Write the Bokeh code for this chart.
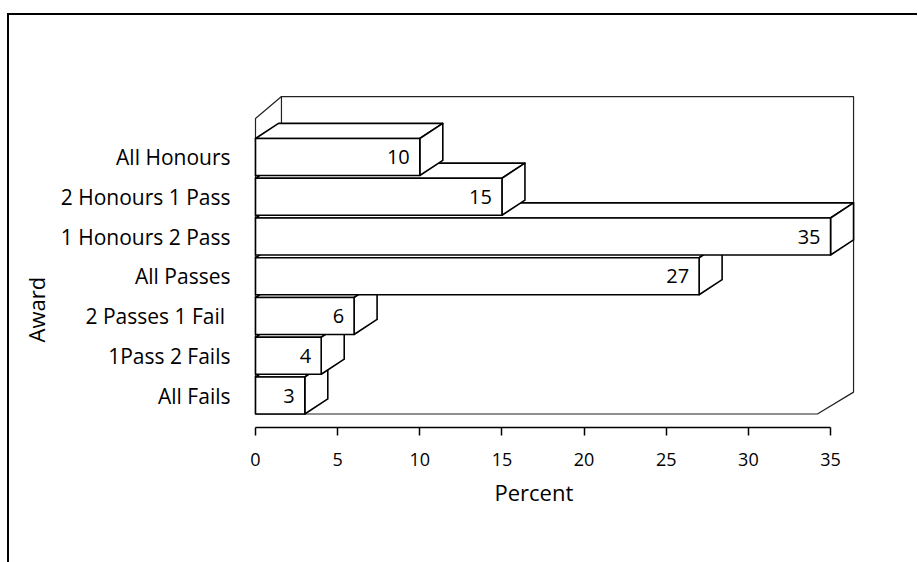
from bokeh.plotting import figure
from bokeh.models import Range1d, FixedTicker, Title
from bokeh.core.properties import value
from bokeh.embed import file_html
from bokeh.resources import INLINE

# ---- data ----
categories = ["All Honours", "2 Honours 1 Pass", "1 Honours 2 Pass", "All Passes",
              "2 Passes  1 Fail", "1Pass 2 Fails", "All Fails"]
percent = [10, 15, 35, 27, 6, 4, 3]
x_ticks = [0, 5, 10, 15, 20, 25, 30, 35]
x_title = "Percent"
y_title = "Award"

# ---- layout / style constants ----
FONT = "Open Sans"
AXIS_MAX = 35
BAR_H = 0.93            # bar thickness (category units)
DX, DY = 1.40, 0.38     # bar depth (value units, category units)
WDX, WDY = 1.58, 0.55   # wall depth
PX_X = 16.43            # pixels per percent unit
PX_Y = 39.75            # pixels per category
FRAME_W, FRAME_H = 630, 367
X0 = -5 / PX_X
Y0 = -0.805

n = len(categories)
idx = list(range(n - 1, -1, -1))   # first category at the top

p = figure(frame_width=FRAME_W, frame_height=FRAME_H,
           x_range=Range1d(X0, X0 + FRAME_W / PX_X),
           y_range=Range1d(Y0, Y0 + FRAME_H / PX_Y),
           output_backend="svg", toolbar_location=None,
           min_border_left=241, min_border_right=37,
           min_border_top=45, min_border_bottom=135)
p.outline_line_color = None
p.grid.visible = False
p.background_fill_color = "white"
p.border_fill_color = "white"
p.styles = {"border-left": "2px solid black", "border-top": "2px solid black",
            "margin-top": "13px", "margin-left": "7px"}

# ---- walls / floor ----
yF = min(idx) - BAR_H / 2
yWT = max(idx) + 0.97
XR = AXIS_MAX + 1.4
XFR = AXIS_MAX - 0.8
wall_xs = [[0, 0, WDX, XR, XR, XFR, 0], [WDX, WDX]]
wall_ys = [[yF, yWT, yWT + WDY, yWT + WDY, yF + WDY, yF, yF], [yWT + WDY, yF + WDY]]
p.multi_line(wall_xs, wall_ys, line_color="#222222", line_width=1.2)

# ---- 3D bars (drawn bottom to top) ----
xs, ys = [], []
order = sorted(zip(categories, percent, idx), key=lambda t: t[2])
for cat, v, i in order:
    yb, yt = i - BAR_H / 2, i + BAR_H / 2
    xs.append([0, v, v + DX, DX]); ys.append([yt, yt, yt + DY, yt + DY])
    xs.append([v, v + DX, v + DX, v]); ys.append([yb, yb + DY, yt + DY, yt])
    xs.append([0, v, v, 0]); ys.append([yb, yb, yt, yt])
p.patches(xs, ys, fill_color="white", line_color="black", line_width=1.6,
          line_join="round")

p.text(x=percent, y=idx, text=[str(v) for v in percent], text_align="right",
       text_baseline="middle", x_offset=-10, text_font=value(FONT),
       text_font_size="20px", text_color="black")

# ---- axes ----
p.yaxis.ticker = FixedTicker(ticks=idx)
p.yaxis.major_label_overrides = {i: c for i, c in zip(idx, categories)}
p.yaxis.axis_line_color = None
p.yaxis.major_tick_line_color = None
p.yaxis.major_tick_out = 0
p.yaxis.major_tick_in = 0
p.yaxis.minor_tick_line_color = None
p.yaxis.major_label_standoff = 20
p.yaxis.major_label_text_font = FONT
p.yaxis.major_label_text_font_size = "21px"
p.yaxis.major_label_text_color = "black"

p.xaxis.ticker = FixedTicker(ticks=x_ticks)
p.xaxis.bounds = (0, AXIS_MAX)
p.xaxis.major_tick_out = 8
p.xaxis.major_tick_in = 0
p.xaxis.minor_tick_line_color = None
p.xaxis.axis_line_color = "black"
p.xaxis.axis_line_width = 1.5
p.xaxis.major_tick_line_color = "black"
p.xaxis.major_tick_line_width = 1.5
p.xaxis.major_label_standoff = 17
p.xaxis.major_label_text_font = FONT
p.xaxis.major_label_text_font_size = "18px"
p.xaxis.major_label_text_color = "black"

p.add_layout(Title(text=y_title, align="left", offset=85, standoff=14, text_font=FONT,
                   text_font_size="22px", text_font_style="normal",
                   text_color="black"), "left")
p.add_layout(Title(text=x_title, align="left", offset=244, standoff=12, text_font=FONT,
                   text_font_size="22px", text_font_style="normal",
                   text_color="black"), "below")

open("out.html", "w").write(file_html(p, INLINE))
